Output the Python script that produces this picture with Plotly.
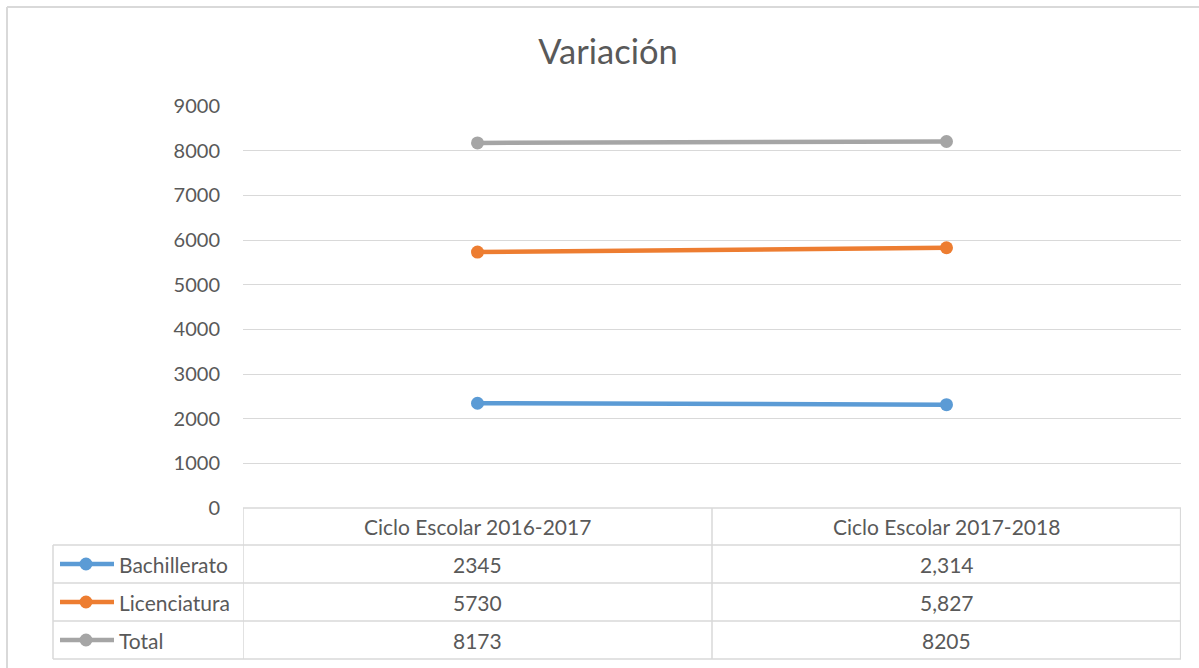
import plotly.graph_objects as go

# ---- data ----
categories = ["Ciclo Escolar 2016-2017", "Ciclo Escolar 2017-2018"]
series_names = ["Bachillerato", "Licenciatura", "Total"]
bachillerato = [2345, 2314]
licenciatura = [5730, 5827]
total = [8173, 8205]
table_text = [["2345", "2,314"], ["5730", "5,827"], ["8173", "8205"]]
y_ticks = [0, 1000, 2000, 3000, 4000, 5000, 6000, 7000, 8000, 9000]
title_text = "Variación"

colors = ["#5B9BD5", "#ED7D31", "#A5A5A5"]
W, H = 1199, 668
FONT = "Lato, 'Open Sans', sans-serif"
TXT = "#595959"
GRID = "#D9D9D9"
TS = 21  # table font size

def px(x):
    return x / W

def py(y):
    return 1 - y / H

fig = go.Figure()
values = [bachillerato, licenciatura, total]
for name, vals, c in zip(series_names, values, colors):
    fig.add_trace(go.Scatter(
        x=categories, y=vals, name=name, mode="lines+markers",
        line=dict(color=c, width=4.5), marker=dict(color=c, size=13),
        showlegend=False, cliponaxis=False, hoverinfo="skip",
    ))

plot_left, plot_right, plot_top, plot_bottom = 243, 1181, 106, 508
fig.update_layout(
    width=W, height=H, margin=dict(l=0, r=0, t=0, b=0, autoexpand=False),
    paper_bgcolor="white", plot_bgcolor="white",
    title=dict(text=title_text, x=px(608), xanchor="center", y=py(52), yanchor="middle",
               automargin=False, font=dict(family=FONT, size=34.5, color=TXT)),
    xaxis=dict(domain=[px(plot_left), px(plot_right)], range=[-0.5, 1.5], automargin=False,
               showticklabels=False, showgrid=False, zeroline=False, showline=False,
               type="category"),
    yaxis=dict(domain=[py(plot_bottom), py(plot_top)], range=[0, 9000], automargin=False,
               tickvals=y_ticks, ticktext=[str(v) for v in y_ticks],
               showgrid=True, gridcolor=GRID, gridwidth=1.3, zeroline=False, showline=False,
               tickfont=dict(family=FONT, size=20, color=TXT), ticklabelstandoff=22),
    font=dict(family=FONT, color=TXT),
)

shapes = []
LC = dict(color=GRID, width=1.5)
# outer frame
shapes.append(dict(type="line", xref="paper", yref="paper", x0=px(7), x1=1, y0=py(7), y1=py(7), line=dict(color=GRID, width=2)))
shapes.append(dict(type="line", xref="paper", yref="paper", x0=px(7), x1=px(7), y0=py(7), y1=0, line=dict(color=GRID, width=2)))

# table geometry
header_top, row_lines = 508, [545, 583, 621, 659]
table_left = 53
# horizontal lines
shapes.append(dict(type="line", xref="paper", yref="paper", x0=px(plot_left), x1=px(plot_right), y0=py(header_top), y1=py(header_top), line=LC))
for yl in row_lines:
    shapes.append(dict(type="line", xref="paper", yref="paper", x0=px(table_left), x1=px(plot_right), y0=py(yl), y1=py(yl), line=LC))
# vertical lines
shapes.append(dict(type="line", xref="paper", yref="paper", x0=px(table_left), x1=px(table_left), y0=py(row_lines[0]), y1=py(row_lines[-1]), line=LC))
for xv in [-0.5, 0.5, 1.5]:
    shapes.append(dict(type="line", xref="x", yref="paper", x0=xv, x1=xv, y0=py(header_top), y1=py(row_lines[-1]), line=LC if xv != 1.5 else dict(color=GRID, width=2.2)))

annotations = []
# header text
for cat in categories:
    annotations.append(dict(x=cat, xref="x", yref="paper", y=py((header_top + row_lines[0]) / 2),
                            text=cat, showarrow=False, xanchor="center", yanchor="middle",
                            font=dict(family=FONT, size=TS, color=TXT)))
# rows
for i, (name, c) in enumerate(zip(series_names, colors)):
    yc = (row_lines[i] + row_lines[i + 1]) / 2
    shapes.append(dict(type="line", xref="paper", yref="paper", x0=px(60), x1=px(114), y0=py(yc), y1=py(yc), line=dict(color=c, width=4.5)))
    r = 6.5
    shapes.append(dict(type="circle", xref="paper", yref="paper", x0=px(86 - r), x1=px(86 + r), y0=py(yc + r), y1=py(yc - r), fillcolor=c, line=dict(color=c, width=0)))
    annotations.append(dict(x=px(117), xref="paper", yref="paper", y=py(yc), text=name, showarrow=False,
                            xanchor="left", yanchor="middle", font=dict(family=FONT, size=TS, color=TXT)))
    for j, cat in enumerate(categories):
        annotations.append(dict(x=cat, xref="x", yref="paper", y=py(yc), text=table_text[i][j], showarrow=False,
                                xanchor="center", yanchor="middle", font=dict(family=FONT, size=TS, color=TXT)))

fig.update_layout(shapes=shapes, annotations=annotations)
fig.write_html(
    "out.html",
    config={"displayModeBar": False},
    post_script="document.body.style.margin='0';document.body.style.overflow='hidden';",
)
